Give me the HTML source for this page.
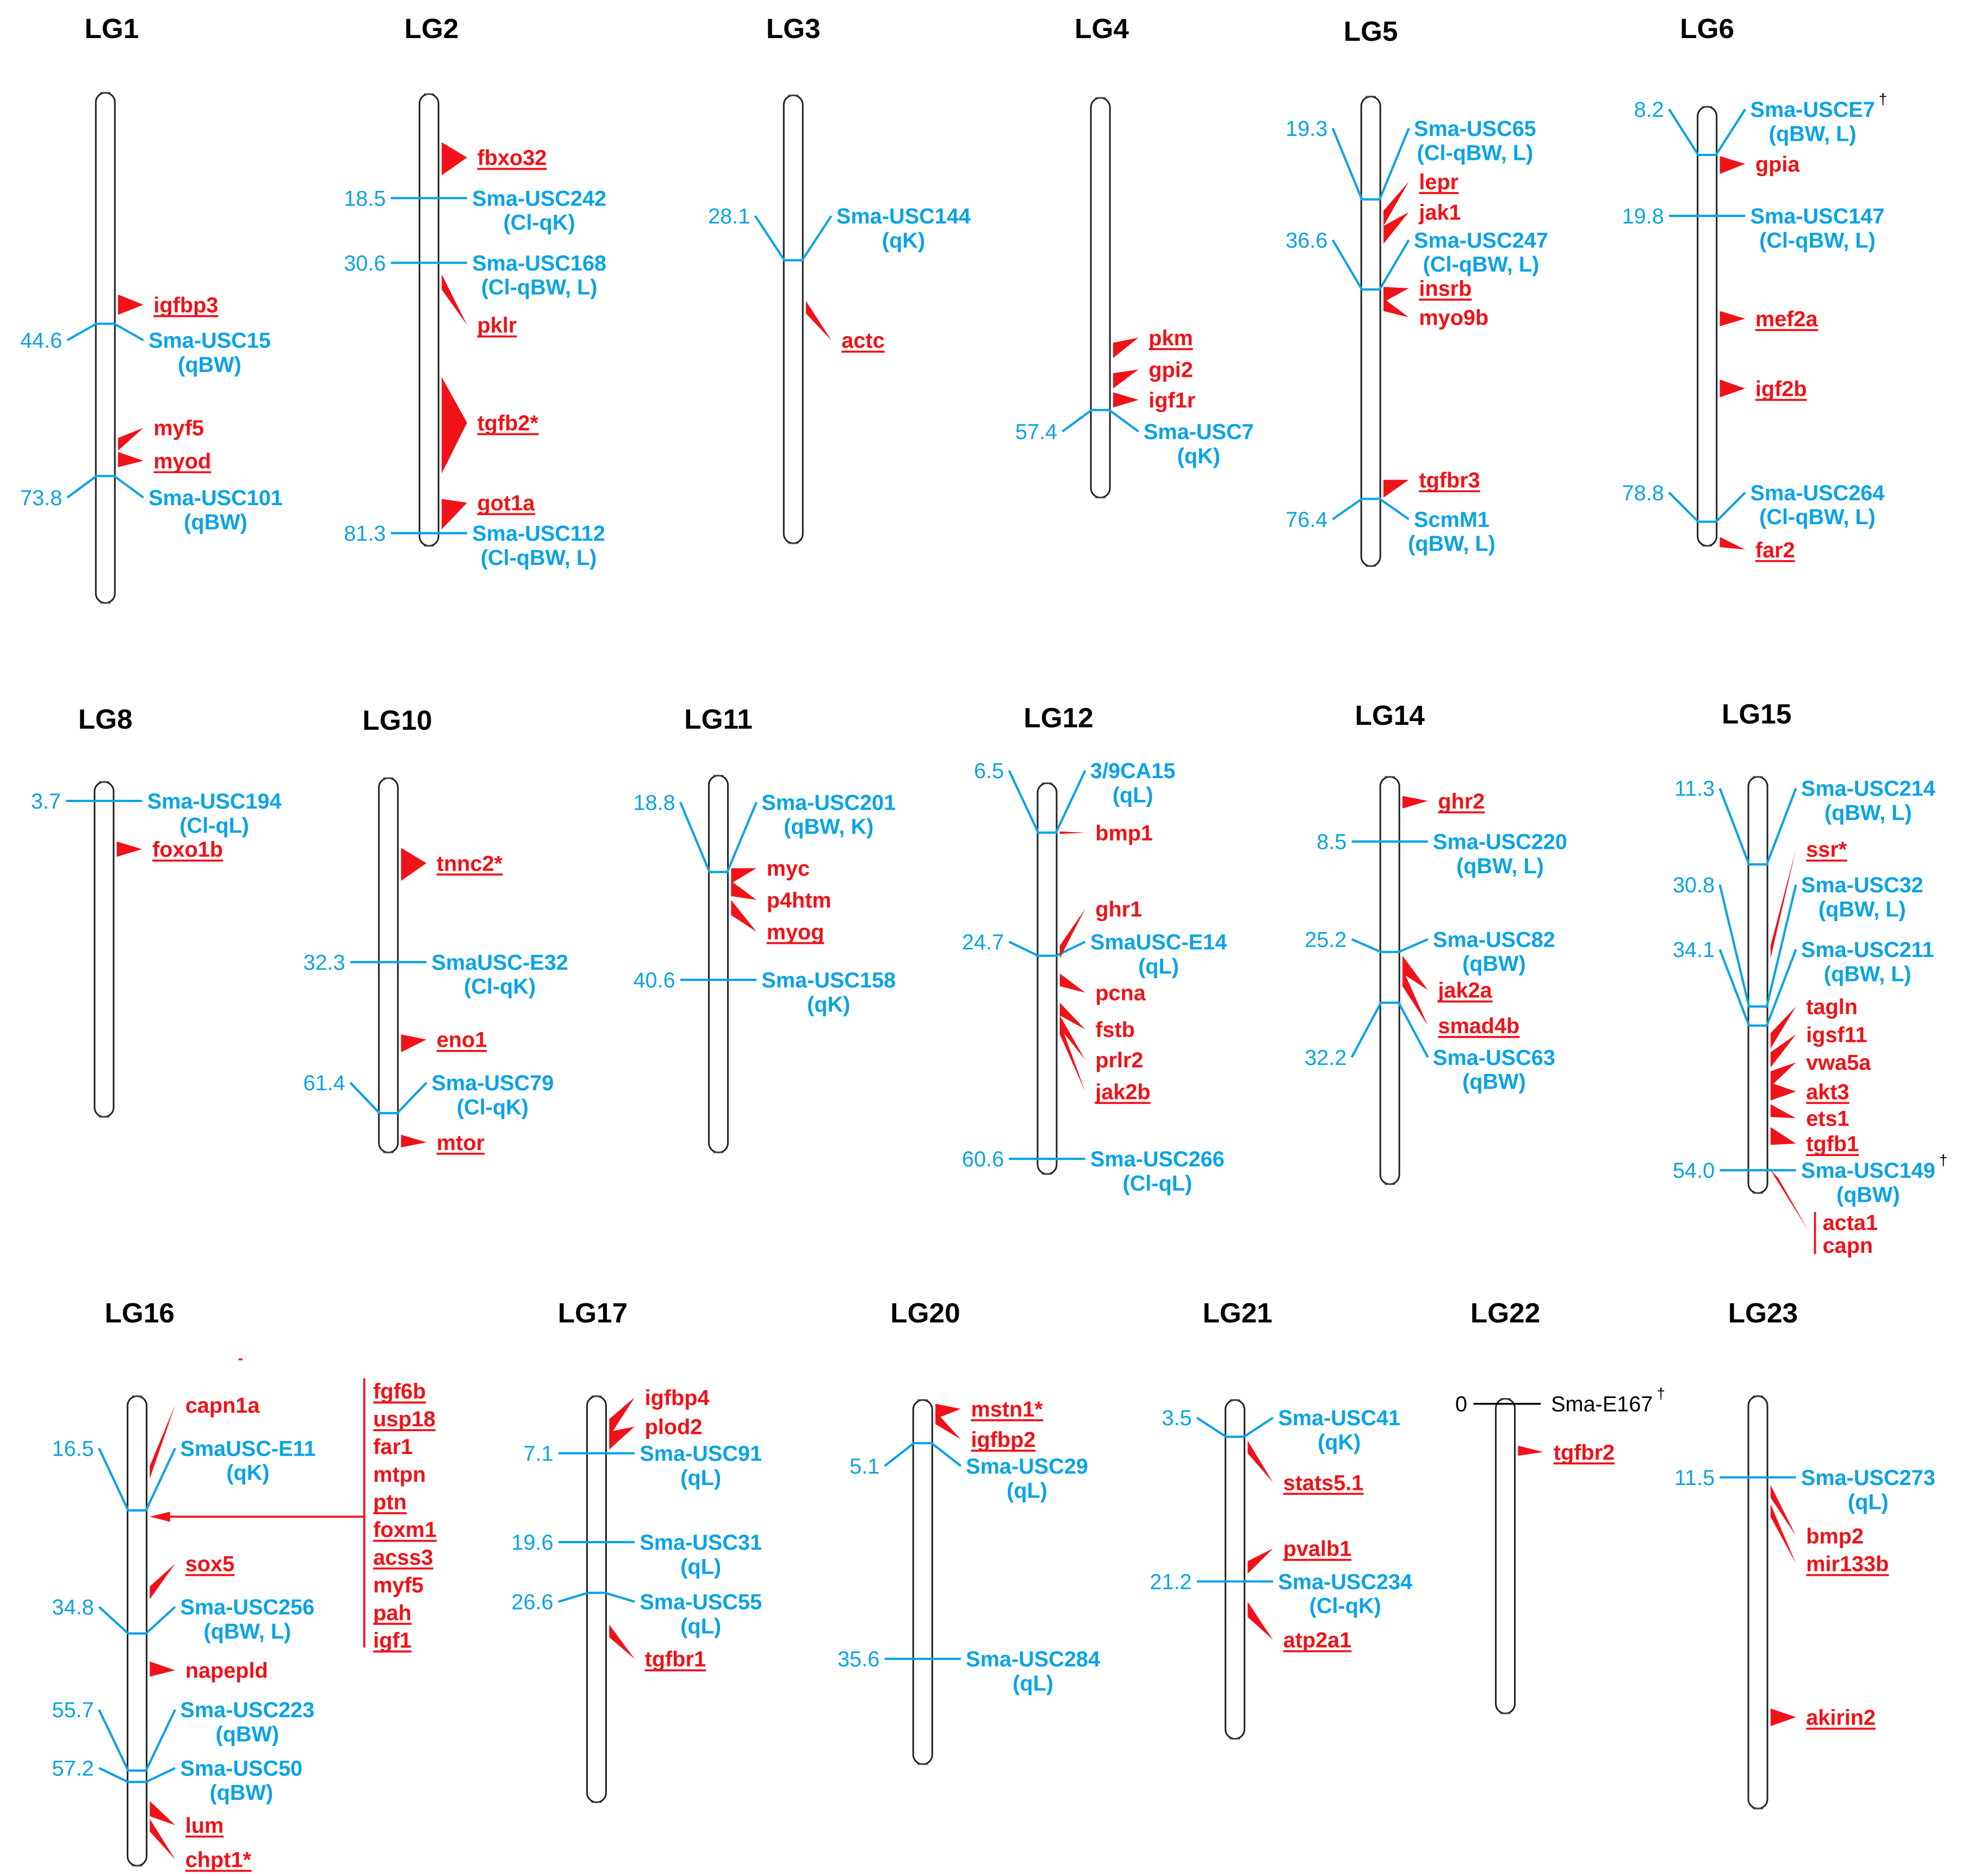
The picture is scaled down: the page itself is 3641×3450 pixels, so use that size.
<!DOCTYPE html>
<html><head><meta charset="utf-8"><style>
html,body{margin:0;padding:0;background:#fff}
svg{display:block}
text{font-family:"Liberation Sans",Arial,sans-serif}
</style></head><body>
<svg id="map" xmlns="http://www.w3.org/2000/svg" width="3641" height="3450" viewBox="0 0 1560 1478">
<rect width="1560" height="1478" fill="#fff"/>
</svg>
<script>
const BLUE = "#0aa3e6", RED = "#f01218";
// chromosomes: name, center x, top, bottom, title x, title y
const lgNames = ["LG1","LG2","LG3","LG4","LG5","LG6","LG8","LG10","LG11","LG12","LG14","LG15","LG16","LG17","LG20","LG21","LG22","LG23"];
const lgX = [83,338,625,867,1080,1345,82,306,566,825,1095,1385,108,470,727,973,1186,1385];
const lgTop = [73,74,75,77,76,84,616,613,611,617,612,612,1100,1100,1103,1103,1102,1100];
const lgBot = [475,430,428,392,446,430,880,908,908,925,933,940,1470,1420,1390,1370,1350,1425];
const titleX = [88,340,625,868,1080,1345,83,313,566,834,1095,1384,110,467,729,975,1186,1389];
const titleY = [30,30,30,30,32,30,574,575,574,573,571,570,1042,1042,1042,1042,1042,1042];
// markers per LG: [cM, tickY, labelY, name, qtl]
const markers = [
 [[44.6,255,268,"Sma-USC15","(qBW)"],[73.8,375,392,"Sma-USC101","(qBW)"]],
 [[18.5,156,156,"Sma-USC242","(Cl-qK)"],[30.6,207,207,"Sma-USC168","(Cl-qBW, L)"],[81.3,420,420,"Sma-USC112","(Cl-qBW, L)"]],
 [[28.1,205,170,"Sma-USC144","(qK)"]],
 [[57.4,323,340,"Sma-USC7","(qK)"]],
 [[19.3,157,101,"Sma-USC65","(Cl-qBW, L)"],[36.6,228,189,"Sma-USC247","(Cl-qBW, L)"],[76.4,393,409,"ScmM1","(qBW, L)"]],
 [[8.2,122,86,"Sma-USCE7†","(qBW, L)"],[19.8,170,170,"Sma-USC147","(Cl-qBW, L)"],[78.8,411,388,"Sma-USC264","(Cl-qBW, L)"]],
 [[3.7,631,631,"Sma-USC194","(Cl-qL)"]],
 [[32.3,758,758,"SmaUSC-E32","(Cl-qK)"],[61.4,877,853,"Sma-USC79","(Cl-qK)"]],
 [[18.8,687,632,"Sma-USC201","(qBW, K)"],[40.6,772,772,"Sma-USC158","(qK)"]],
 [[6.5,656,607,"3/9CA15","(qL)"],[24.7,753,742,"SmaUSC-E14","(qL)"],[60.6,913,913,"Sma-USC266","(Cl-qL)"]],
 [[8.5,663,663,"Sma-USC220","(qBW, L)"],[25.2,750,740,"Sma-USC82","(qBW)"],[32.2,790,833,"Sma-USC63","(qBW)"]],
 [[11.3,681,621,"Sma-USC214","(qBW, L)"],[30.8,793,697,"Sma-USC32","(qBW, L)"],[34.1,808,748,"Sma-USC211","(qBW, L)"],[54.0,922,922,"Sma-USC149†","(qBW)"]],
 [[16.5,1190,1141,"SmaUSC-E11","(qK)"],[34.8,1287,1266,"Sma-USC256","(qBW, L)"],[55.7,1395,1347,"Sma-USC223","(qBW)"],[57.2,1404,1393,"Sma-USC50","(qBW)"]],
 [[7.1,1145,1145,"Sma-USC91","(qL)"],[19.6,1215,1215,"Sma-USC31","(qL)"],[26.6,1255,1262,"Sma-USC55","(qL)"]],
 [[5.1,1137,1155,"Sma-USC29","(qL)"],[35.6,1307,1307,"Sma-USC284","(qL)"]],
 [[3.5,1132,1117,"Sma-USC41","(qK)"],[21.2,1246,1246,"Sma-USC234","(Cl-qK)"]],
 [],
 [[11.5,1164,1164,"Sma-USC273","(qL)"]]
];
// genes per LG: [tipY, labelY, name, underlined, halfWidth]
const genes = [
 [[240,240,"igfbp3",1,8],[350,337,"myf5",0,5],[362,363,"myod",1,6]],
 [[125,124,"fbxo32",1,13],[222,256,"pklr",1,6],[335,333,"tgfb2*",1,38],[405,396,"got1a",1,12]],
 [[242,268,"actc",1,5]],
 [[276,266,"pkm",1,6],[300,291,"gpi2",0,6],[315,315,"igf1r",0,6]],
 [[172,143,"lepr",1,6],[185,167,"jak1",0,7],[232,227,"insrb",1,6],[240,250,"myo9b",0,5],[385,378,"tgfbr3",1,7]],
 [[130,129,"gpia",0,7],[251,251,"mef2a",1,6],[306,306,"igf2b",1,7],[427,433,"far2",1,4]],
 [[669,669,"foxo1b",1,6]],
 [[681,680,"tnnc2*",1,13],[822,819,"eno1",1,7],[899,900,"mtor",1,5]],
 [[690,684,"myc",0,6],[700,709,"p4htm",0,6],[715,734,"myog",1,6]],
 [[656,656,"bmp1",0,1],[750,716,"ghr1",0,5],[772,782,"pcna",0,5],[795,811,"fstb",0,5],[805,835,"prlr2",0,5],[810,860,"jak2b",1,5]],
 [[632,631,"ghr2",1,5],[760,780,"jak2a",1,7],[770,808,"smad4b",1,7]],
 [[750,669,"ssr*",1,5],[820,793,"tagln",0,6],[835,815,"igsf11",0,6],[850,837,"vwa5a",0,6],[860,860,"akt3",1,7],[875,881,"ets1",0,5],[895,901,"tgfb1",1,7]],
 [[1160,1107,"capn1a",0,5],[1255,1232,"sox5",1,5],[1315,1316,"napepld",0,6],[1425,1438,"lum",1,6],[1438,1465,"chpt1*",1,5]],
 [[1125,1101,"igfbp4",0,7],[1135,1124,"plod2",0,7],[1285,1307,"tgfbr1",1,5]],
 [[1112,1110,"mstn1*",1,6],[1117,1134,"igfbp2",1,5]],
 [[1140,1168,"stats5.1",1,5],[1235,1220,"pvalb1",1,5],[1268,1292,"atp2a1",1,6]],
 [[1143,1144,"tgfbr2",1,4]],
 [[1175,1210,"bmp2",0,5],[1190,1232,"mir133b",1,5],[1353,1353,"akirin2",1,7]]
];
const lg16List = ["fgf6b","usp18","far1","mtpn","ptn","foxm1","acss3","myf5","pah","igf1"];
const lg16Under = [1,1,0,0,1,1,1,0,1,1];
const lg15List = ["acta1","capn"];

const svg = document.getElementById('map');
const NS = "http://www.w3.org/2000/svg";
function mk(tag, attrs, parent){
  const e = document.createElementNS(NS, tag);
  for (const k in attrs) e.setAttribute(k, attrs[k]);
  (parent||svg).appendChild(e);
  return e;
}
function txt(s, x, y, fill, size, bold, anchor, parent){
  const t = mk('text', {x:x, y:y, fill:fill, 'font-size':size, 'font-weight':bold?'bold':'normal', 'text-anchor':anchor||'start'}, parent);
  t.textContent = s;
  return t;
}
function underline(t, y, parent){
  const bb = t.getBBox();
  const l = mk('line', {x1:bb.x, x2:bb.x+bb.width, y1:y, y2:y, stroke:RED, 'stroke-width':1.6}, parent);
  
  
}

lgNames.forEach((name, i) => {
  const cx = lgX[i], top = lgTop[i], bot = lgBot[i];
  const g = mk('g', {});
  
  
  const t = txt(name, titleX[i], titleY[i], '#000', 22, true, 'middle', g);
  
  
  const r = mk('rect', {x:cx-7.5, y:top, width:15, height:bot-top, rx:7.5, ry:7.5, fill:'#fff', stroke:'#222', 'stroke-width':1.3}, g);
  
  
  [top, bot].forEach(yy => {
    const c = mk('line', {x1:cx-4, x2:cx+4, y1:yy, y2:yy, stroke:'#444', 'stroke-width':1}, g);
    
    
  });
  markers[i].forEach(m => {
    const [cm, ty, ly, mname, q] = m;
    const mg = mk('g', {}, g);
    
    
    const pl = mk('polyline', {points:`${cx-30},${ly} ${cx-7},${ty} ${cx+7},${ty} ${cx+30},${ly}`, fill:'none', stroke:BLUE, 'stroke-width':1.8}, mg);
    
    
    const n = txt(cm.toFixed(1), cx-34, ly+6, BLUE, 17, false, 'end', mg);
    
    
    const nm = txt(mname.replace('†',''), cx+34, ly+6, BLUE, 17, true, 'start', mg);
    
    
    const bb = nm.getBBox();
    if (mname.indexOf('†') >= 0) {
      const d = txt('†', bb.x+bb.width+3, ly-4, '#000', 12, false, 'start', mg);
      
      
    }
    const qq = txt(q, bb.x+bb.width/2, ly+25, BLUE, 17, true, 'middle', mg);
    
    
  });
  genes[i].forEach(gn => {
    const [tip, ly, gname, u, s] = gn;
    const gg = mk('g', {}, g);
    
    
    const p = mk('polygon', {points:`${cx+10},${tip-s} ${cx+10},${tip+s} ${cx+30},${ly}`, fill:RED}, gg);
    
    
    const tt = txt(gname, cx+38, ly+6, RED, 17, true, 'start', gg);
    
    
    if (u) underline(tt, ly+9, gg);
  });
});

// LG22 black anchor marker
(function(){
  const cx = 1186;
  const g = mk('g', {});
  
  
  mk('line', {x1:cx-25, x2:cx+28, y1:1106, y2:1106, stroke:'#000', 'stroke-width':1.5}, g);
  const a = txt('0', cx-30, 1112, '#000', 17, false, 'end', g);
  
  
  const b = txt('Sma-E167', cx+36, 1112, '#000', 17, false, 'start', g);
  
  
  const bb = b.getBBox();
  const d = txt('†', bb.x+bb.width+3, 1102, '#000', 12, false, 'start', g);
  
  
})();

// LG16 bracketed gene cluster
(function(){
  const cx = 108, y = 1195, bx = 287;
  const g = mk('g', {});
  
  
  mk('polygon', {points:`${cx+10},${y} ${cx+26},${y-4} ${cx+26},${y+4}`, fill:RED}, g);
  mk('line', {x1:cx+26, x2:bx, y1:y, y2:y, stroke:RED, 'stroke-width':1.6}, g);
  mk('line', {x1:bx, x2:bx, y1:1086, y2:1298, stroke:RED, 'stroke-width':1.6}, g);
  lg16List.forEach((n, k) => {
    const yy = 1096 + k*21.8;
    const t = txt(n, bx+7, yy+6, RED, 17, true, 'start', g);
    
    
    if (lg16Under[k]) underline(t, yy+9, g);
  });
})();

// LG15 bracketed genes
(function(){
  const cx = 1385;
  const g = mk('g', {});
  
  
  mk('polygon', {points:`${cx+10},${922} ${cx+16},${928} ${cx+40},${970}`, fill:RED}, g);
  mk('line', {x1:1430, x2:1430, y1:955, y2:988, stroke:RED, 'stroke-width':1.6}, g);
  lg15List.forEach((n, k) => {
    const t = txt(n, 1436, 969 + k*18, RED, 17, true, 'start', g);
    
    
  });
})();

// small red stray mark near LG16 title
const dot = mk('line', {x1:188, x2:191, y1:1071, y2:1071, stroke:RED, 'stroke-width':1.5});


</script>
</body></html>
